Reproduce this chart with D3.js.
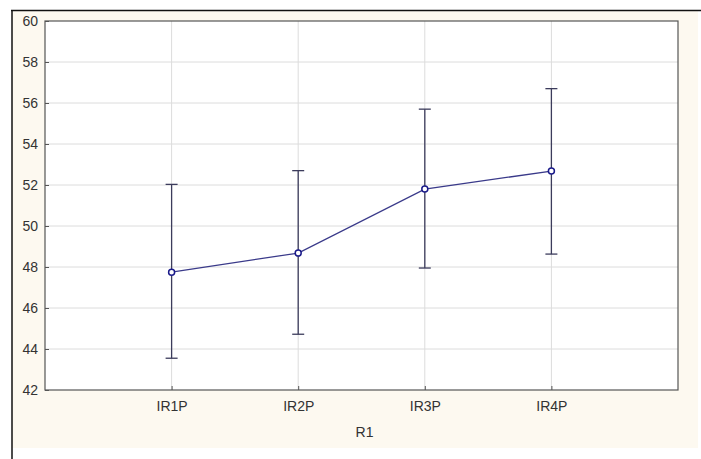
<!DOCTYPE html>
<html><head><meta charset="utf-8">
<script src="https://cdn.jsdelivr.net/npm/d3@7"></script>
<style>body{margin:0;background:#fff}svg{display:block}</style>
</head><body>
<script>
const categories = ["IR1P","IR2P","IR3P","IR4P"];
const means = [47.75, 48.68, 51.8, 52.68];
const upper = [52.03, 52.7, 55.7, 56.7];
const lower = [43.55, 44.72, 47.95, 48.63];
const yTicks = [42,44,46,48,50,52,54,56,58,60];
const xTitle = "R1";

const W = 701, H = 459;
const svg = d3.select("body").append("svg").attr("width", W).attr("height", H);
// outer frame
svg.append("rect").attr("x",12).attr("y",10).attr("width",686).attr("height",438).attr("fill","#fdf9f0");
svg.append("line").attr("x1",11).attr("x2",701).attr("y1",10.5).attr("y2",10.5).attr("stroke","#111").attr("stroke-width",1.5);
svg.append("line").attr("x1",12).attr("x2",12).attr("y1",10).attr("y2",459).attr("stroke","#111").attr("stroke-width",1.5);

const L = 45, R = 678, T = 21, B = 390;
const x = d3.scaleLinear().domain([0, categories.length + 1]).range([L, R]);
const y = d3.scaleLinear().domain([42, 60]).range([B, T]);

svg.append("rect").attr("x",L).attr("y",T).attr("width",R-L).attr("height",B-T).attr("fill","#fff");
// grid
svg.append("g").selectAll("line").data(yTicks.slice(1,-1)).join("line")
  .attr("x1",L).attr("x2",R).attr("y1",d=>y(d)).attr("y2",d=>y(d))
  .attr("stroke","#dcdcdc").attr("stroke-width",1);
svg.append("g").selectAll("line").data(categories).join("line")
  .attr("x1",(d,i)=>x(i+1)).attr("x2",(d,i)=>x(i+1)).attr("y1",T).attr("y2",B)
  .attr("stroke","#dcdcdc").attr("stroke-width",1);
svg.append("rect").attr("x",L).attr("y",T).attr("width",R-L).attr("height",B-T)
  .attr("fill","none").attr("stroke","#555").attr("stroke-width",1.2);

// axes
const yAxis = d3.axisLeft(y).tickValues(yTicks).tickSize(4).tickPadding(3);
const gy = svg.append("g").attr("transform",`translate(${L},0)`).call(yAxis);
const xAxis = d3.axisBottom(x).tickValues(categories.map((d,i)=>i+1)).tickFormat(d=>categories[d-1]).tickSize(4).tickPadding(7);
const gx = svg.append("g").attr("transform",`translate(0,${B})`).call(xAxis);
[gy,gx].forEach(g=>{
  g.select(".domain").remove();
  g.selectAll(".tick line").attr("stroke","#555");
  g.selectAll("text").attr("font-family","Liberation Sans, Arial, sans-serif").attr("font-size",14).attr("fill","#333");
});
gy.selectAll(".tick line").attr("x2",4).attr("x1",0);
gx.selectAll(".tick line").attr("y2",-4);
svg.append("text").attr("x",(L+R)/2 + 3).attr("y",437).attr("text-anchor","middle")
  .attr("font-family","Liberation Sans, Arial, sans-serif").attr("font-size",14).attr("fill","#333").text(xTitle);

// error bars
const eb = svg.append("g").attr("stroke","#3c3c5c").attr("stroke-width",1.3);
categories.forEach((c,i)=>{
  const cx = x(i+1);
  eb.append("line").attr("x1",cx).attr("x2",cx).attr("y1",y(upper[i])).attr("y2",y(lower[i]));
  eb.append("line").attr("x1",cx-6).attr("x2",cx+6).attr("y1",y(upper[i])).attr("y2",y(upper[i]));
  eb.append("line").attr("x1",cx-6).attr("x2",cx+6).attr("y1",y(lower[i])).attr("y2",y(lower[i]));
});
// line
svg.append("path").datum(means).attr("fill","none").attr("stroke","#3a3a8a").attr("stroke-width",1.3)
  .attr("d", d3.line().x((d,i)=>x(i+1)).y(d=>y(d)));
svg.append("g").selectAll("circle").data(means).join("circle")
  .attr("cx",(d,i)=>x(i+1)).attr("cy",d=>y(d)).attr("r",3)
  .attr("fill","#fff").attr("stroke","#1a1a8a").attr("stroke-width",1.5);
</script>
</body></html>
